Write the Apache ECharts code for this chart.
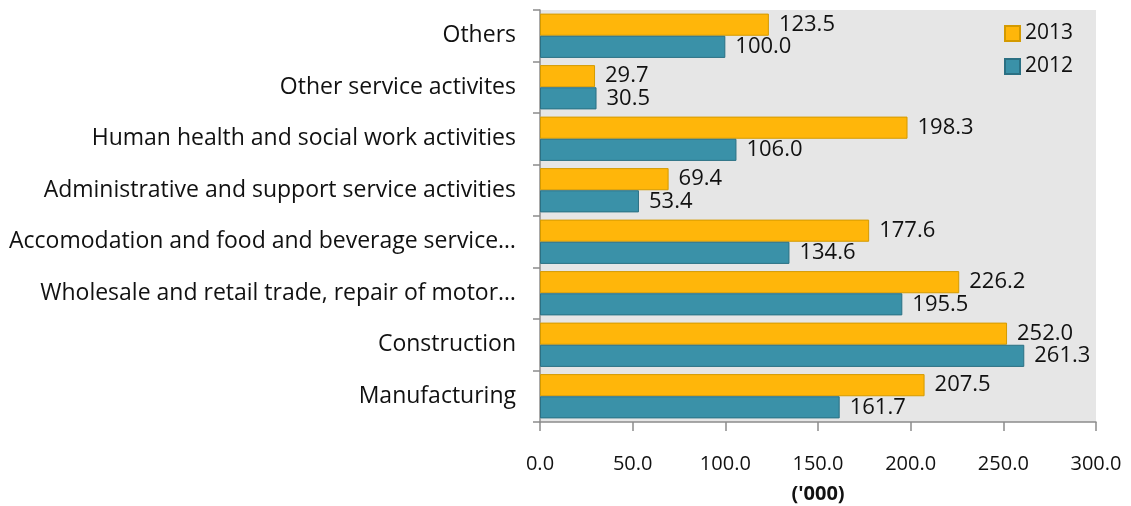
<!DOCTYPE html>
<html>
<head>
<meta charset="utf-8">
<script src="https://cdn.jsdelivr.net/npm/echarts@6/dist/echarts.min.js"></script>
<style>
  html, body { margin: 0; padding: 0; background: #fff; }
  #chart { width: 1131px; height: 506px; }
</style>
</head>
<body>
<div id="chart"></div>
<script>
// categories, bottom to top
const categories = [
  'Manufacturing',
  'Construction',
  'Wholesale and retail trade, repair of motor…',
  'Accomodation and food and beverage service…',
  'Administrative and support service activities',
  'Human health and social work activities',
  'Other service activites',
  'Others'
];
const values2013 = [207.5, 252.0, 226.2, 177.6, 69.4, 198.3, 29.7, 123.5];
const values2012 = [161.7, 261.3, 195.5, 134.6, 53.4, 106.0, 30.5, 100.0];
const xTicks = [0, 50, 100, 150, 200, 250, 300];

const font = 'Open Sans';
const chart = echarts.init(document.getElementById('chart'));

const labelStyle = {
  show: true,
  position: 'right',
  distance: 10,
  fontFamily: font,
  fontSize: 22,
  color: '#111',
  formatter: p => p.value.toFixed(1)
};

chart.setOption({
  animation: false,
  textStyle: { fontFamily: font },
  grid: {
    left: 540, right: 35, top: 10, bottom: 84,
    outerBoundsMode: 'none',
    containLabel: false,
    show: true,
    backgroundColor: '#e6e6e6',
    borderWidth: 0
  },
  legend: {
    data: ['2013', '2012'],
    orient: 'vertical',
    left: 999,
    top: 18,
    icon: 'rect',
    itemWidth: 15,
    itemHeight: 15,
    itemGap: 12,
    textStyle: { fontFamily: font, fontSize: 21, color: '#111' }
  },
  xAxis: {
    type: 'value',
    min: xTicks[0],
    max: xTicks[xTicks.length - 1],
    interval: 50,
    name: "('000)",
    nameLocation: 'middle',
    nameGap: 62,
    nameTextStyle: { fontFamily: font, fontSize: 20, fontWeight: 'bold', color: '#111' },
    axisLine: { show: true, lineStyle: { color: '#8c8c8c', width: 1.5 } },
    axisTick: { show: true, length: 9, lineStyle: { color: '#8c8c8c', width: 1.5 } },
    axisLabel: {
      fontFamily: font, fontSize: 20, color: '#111', margin: 32,
      formatter: v => v.toFixed(1)
    },
    splitLine: { show: false }
  },
  yAxis: {
    type: 'category',
    data: categories,
    axisLine: { show: true, lineStyle: { color: '#8c8c8c', width: 1.5 } },
    axisTick: { show: true, length: 7, alignWithLabel: false, lineStyle: { color: '#8c8c8c', width: 1.5 } },
    axisLabel: { fontFamily: font, fontSize: 23, color: '#111', margin: 24 },
    splitLine: { show: false }
  },
  series: [
    {
      name: '2013',
      type: 'bar',
      data: values2013,
      barGap: '0%',
      barCategoryGap: '14%',
      itemStyle: { color: '#ffb60a', borderColor: '#d49a00', borderWidth: 1 },
      label: labelStyle
    },
    {
      name: '2012',
      type: 'bar',
      data: values2012,
      barGap: '0%',
      barCategoryGap: '14%',
      itemStyle: { color: '#3a91a8', borderColor: '#2b7083', borderWidth: 1 },
      label: labelStyle
    }
  ]
});
</script>
</body>
</html>
